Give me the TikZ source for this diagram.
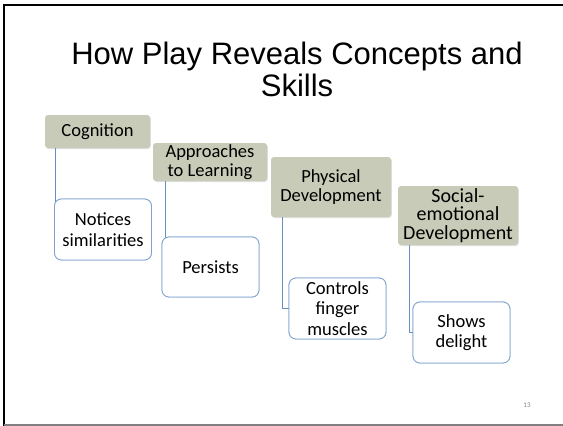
\documentclass[tikz,border=0pt]{standalone}
\usepackage{fontspec}
\setmainfont{Carlito}
\newfontfamily\titlefont{Liberation Sans}
\usetikzlibrary{shadows}
\definecolor{hdrfill}{HTML}{C8CBB7}
\definecolor{kidline}{HTML}{7FA2CF}
\definecolor{conn}{HTML}{6A8EC2}
\tikzset{
  hdr/.style={fill=hdrfill, rounded corners=3pt, inner sep=0pt, align=center,
    font=\fontsize{18.5}{19.5}\selectfont,
    drop shadow={shadow xshift=0.8pt, shadow yshift=-1pt, opacity=0.25}},
  kid/.style={draw=kidline, line width=0.8pt, fill=white, rounded corners=7pt, inner sep=0pt,
    align=center, font=\fontsize{18.5}{20.5}\selectfont, minimum width=97pt},
  link/.style={draw=conn, line width=0.8pt}
}
\begin{document}
\begin{tikzpicture}[x=1pt,y=-1pt]
\useasboundingbox (0,0) rectangle (563,426);
\fill[white] (0,0) rectangle (563,426);
% frame
\draw[line width=2pt] (3.5,426) -- (3.5,5) -- (563,5);
\draw[gray, line width=1.5pt] (3.5,425) -- (563,425);
% title
\node[font=\titlefont\fontsize{31}{31.5}\selectfont, align=center, anchor=north] (title) at (297,39)
  {How Play Reveals Concepts and\\Skills};
% connector start points
\coordinate (c1) at (55.7,148);
\coordinate (c2) at (165,181);
\coordinate (c3) at (282.7,217);
\coordinate (c4) at (409.5,245);
% headers
\node[hdr, minimum width=105pt, minimum height=33pt] (h1) at (97.5,131.5) {Cognition};
\node[hdr, minimum width=114pt, minimum height=38pt] (h2) at (210,162) {Approaches\\to Learning};
\node[hdr, minimum width=120pt, minimum height=60pt] (h3) at (331,187) {Physical\\Development};
\node[hdr, minimum width=120pt, minimum height=59pt, font=\fontsize{20}{18.5}\selectfont] (h4) at (458,215.5) {Social-\\emotional\\Development};
% children (placed to get anchors)
\node[kid, minimum height=61pt] (k1) at (103,229.5) {};
\node[kid, minimum height=60pt] (k2) at (210.5,267) {};
\node[kid, minimum height=61pt] (k3) at (337.5,308.5) {};
\node[kid, minimum height=61pt] (k4) at (461.5,332.5) {};
% connectors
\draw[link] (c1) |- (k1.west);
\draw[link] (c2) |- (k2.west);
\draw[link] (c3) |- (k3.west);
\draw[link] (c4) |- (k4.west);
% children drawn on top of connectors
\node[kid, minimum height=61pt] at (k1) {Notices\\similarities};
\node[kid, minimum height=60pt] at (k2) {Persists};
\node[kid, minimum height=61pt] at (k3) {Controls\\finger\\muscles};
\node[kid, minimum height=61pt] at (k4) {Shows\\delight};
% page number
\node[text=gray, font=\fontsize{7}{8}\selectfont] (pg) at (527,405) {13};
\end{tikzpicture}
\end{document}
